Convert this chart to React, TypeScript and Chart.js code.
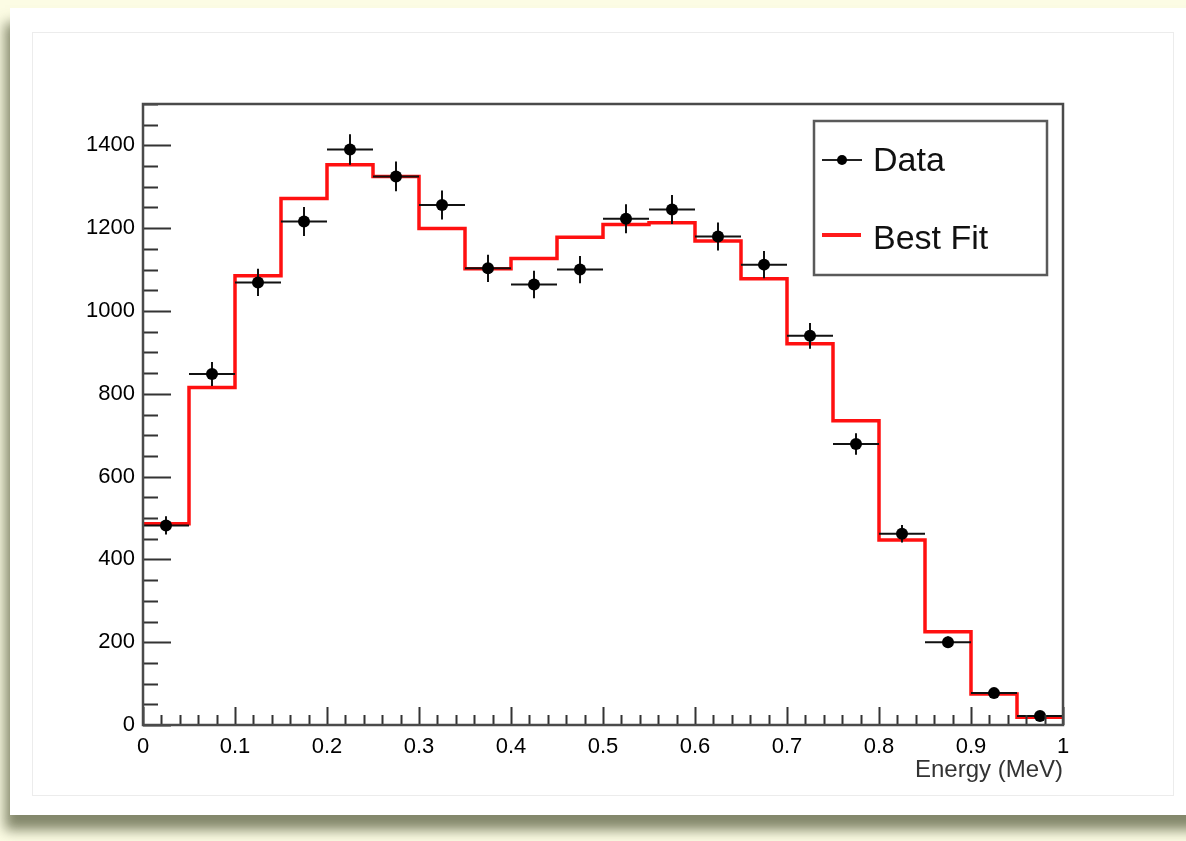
import React, { useEffect, useRef } from "react";
import { Chart, registerables } from "chart.js";

Chart.register(...registerables);

// ---- data ----
const binEdges = [0, 0.05, 0.1, 0.15, 0.2, 0.25, 0.3, 0.35, 0.4, 0.45, 0.5, 0.55, 0.6, 0.65, 0.7, 0.75, 0.8, 0.85, 0.9, 0.95, 1.0];
const dataCounts = [482, 848, 1069, 1216, 1390, 1325, 1256, 1103, 1064, 1100, 1223, 1245, 1180, 1112, 940, 679, 462, 200, 77, 22];
const dataErrors = [22, 29, 33, 35, 37, 36, 35, 33, 33, 33, 35, 35, 34, 33, 31, 26, 21, 14, 9, 5];
const fitCounts = [486, 815, 1085, 1272, 1353, 1325, 1199, 1102, 1127, 1178, 1209, 1213, 1169, 1078, 921, 735, 447, 225, 75, 19];
const yMajorTicks = [0, 200, 400, 600, 800, 1000, 1200, 1400];
const xMajorTicks = [0, 0.1, 0.2, 0.3, 0.4, 0.5, 0.6, 0.7, 0.8, 0.9, 1];
const legendLabels = ["Data", "Best Fit"];
const xTitle = "Energy (MeV)";

const FONT = "'Liberation Sans', Arial, Helvetica, sans-serif";

const isMajorY = (v: number) => yMajorTicks.some((m) => Math.abs(m - v) < 1e-6);
const isMajorX = (v: number) => xMajorTicks.some((m) => Math.abs(m - v) < 1e-6);

const framePlugin = {
  id: "rootFrame",
  afterDatasetDraw(chart: any, args: any) {
    if (args.meta.label !== legendLabels[1]) return;
    // error bars for data, drawn after fit, before data markers
    const { ctx } = chart;
    const xs = chart.scales.x;
    const ys = chart.scales.y;
    ctx.save();
    ctx.strokeStyle = "#111";
    ctx.lineWidth = 2;
    for (let i = 0; i < dataCounts.length; i++) {
      const xl = xs.getPixelForValue(binEdges[i]);
      const xr = xs.getPixelForValue(binEdges[i + 1]);
      const xc = xs.getPixelForValue((binEdges[i] + binEdges[i + 1]) / 2);
      const yc = ys.getPixelForValue(dataCounts[i]);
      const yt = ys.getPixelForValue(dataCounts[i] + dataErrors[i]);
      const yb = ys.getPixelForValue(dataCounts[i] - dataErrors[i]);
      ctx.beginPath();
      ctx.moveTo(xl, yc);
      ctx.lineTo(xr, yc);
      ctx.moveTo(xc, yt);
      ctx.lineTo(xc, yb);
      ctx.stroke();
    }
    ctx.restore();
  },
  afterDraw(chart: any) {
    const { ctx, chartArea: a } = chart;
    const xs = chart.scales.x;
    const ys = chart.scales.y;
    ctx.save();
    // ticks (inward)
    ctx.strokeStyle = "#333";
    ctx.lineWidth = 2;
    ctx.beginPath();
    ys.ticks.forEach((t: any, i: number) => {
      const y = Math.round(ys.getPixelForTick(i)) + 0.5;
      const len = isMajorY(t.value) ? 28 : 15;
      ctx.moveTo(a.left, y);
      ctx.lineTo(a.left + len, y);
    });
    xs.ticks.forEach((t: any, i: number) => {
      const x = Math.round(xs.getPixelForTick(i)) + 0.5;
      const len = isMajorX(t.value) ? 18 : 10;
      ctx.moveTo(x, a.bottom);
      ctx.lineTo(x, a.bottom - len);
    });
    ctx.stroke();
    // frame
    ctx.strokeStyle = "#4a4a4a";
    ctx.lineWidth = 2.5;
    ctx.strokeRect(a.left, a.top, a.right - a.left, a.bottom - a.top);

    // legend box
    const bx = a.left + 671;
    const by = a.top + 17;
    const bw = 233;
    const bh = 154;
    ctx.fillStyle = "#fff";
    ctx.fillRect(bx, by, bw, bh);
    ctx.strokeStyle = "#5a5a5a";
    ctx.lineWidth = 2.5;
    ctx.strokeRect(bx, by, bw, bh);
    // Data entry
    const y1 = by + 39;
    ctx.strokeStyle = "#222";
    ctx.lineWidth = 2;
    ctx.beginPath();
    ctx.moveTo(bx + 8, y1);
    ctx.lineTo(bx + 48, y1);
    ctx.stroke();
    ctx.fillStyle = "#000";
    ctx.beginPath();
    ctx.arc(bx + 28, y1, 5, 0, Math.PI * 2);
    ctx.fill();
    // Best Fit entry
    const y2 = by + 114;
    ctx.strokeStyle = "#ff1a1a";
    ctx.lineWidth = 4;
    ctx.beginPath();
    ctx.moveTo(bx + 8, y2);
    ctx.lineTo(bx + 47, y2);
    ctx.stroke();
    ctx.fillStyle = "#111";
    ctx.font = `34px ${FONT}`;
    ctx.textBaseline = "middle";
    ctx.textAlign = "left";
    ctx.fillText(legendLabels[0], bx + 59, y1 + 2);
    ctx.fillText(legendLabels[1], bx + 59, y2 + 5);
    ctx.restore();
  },
};

function ChartCanvas() {
  const ref = useRef<HTMLCanvasElement | null>(null);
  useEffect(() => {
    if (!ref.current) return;
    const fitPoints = binEdges.map((e, i) => ({ x: e, y: fitCounts[Math.min(i, fitCounts.length - 1)] }));
    const dataPoints = dataCounts.map((v, i) => ({ x: (binEdges[i] + binEdges[i + 1]) / 2, y: v }));
    const chart = new Chart(ref.current, {
      type: "scatter",
      data: {
        datasets: [
          {
            label: legendLabels[1],
            type: "line",
            data: fitPoints,
            stepped: "before",
            borderColor: "#ff1010",
            borderWidth: 3.5,
            pointRadius: 0,
            fill: false,
            order: 2,
          } as any,
          {
            label: legendLabels[0],
            data: dataPoints,
            pointRadius: 6,
            pointBackgroundColor: "#000",
            pointBorderColor: "#000",
            pointBorderWidth: 0,
            order: 1,
          },
        ],
      },
      options: {
        animation: false,
        responsive: false,
        maintainAspectRatio: false,
        layout: { padding: { top: 71, right: 110, left: 0, bottom: 0 } },
        plugins: { legend: { display: false }, tooltip: { enabled: false } },
        scales: {
          x: {
            type: "linear",
            min: 0,
            max: 1,
            grid: { display: false },
            border: { display: false },
            ticks: {
              stepSize: 0.02,
              autoSkip: false,
              maxRotation: 0,
              padding: 1,
              color: "#000",
              font: { family: FONT, size: 22 },
              callback: (v: any) => (isMajorX(Number(v)) ? String(Math.round(Number(v) * 10) / 10) : ""),
            },
            title: {
              display: true,
              text: xTitle,
              align: "end",
              color: "#333",
              font: { family: FONT, size: 24 },
              padding: { top: 0, bottom: 10 },
            },
            afterFit: (s: any) => {
              s.height = 70;
            },
          },
          y: {
            type: "linear",
            min: 0,
            max: 1500,
            grid: { display: false },
            border: { display: false },
            ticks: {
              stepSize: 50,
              autoSkip: false,
              padding: 0,
              color: "#000",
              font: { family: FONT, size: 22 },
              callback: (v: any) => (isMajorY(Number(v)) ? String(v) : ""),
            },
            afterFit: (s: any) => {
              s.width = 110;
            },
          },
        },
      },
      plugins: [framePlugin],
    });
    return () => chart.destroy();
  }, []);
  return <canvas ref={ref} width={1140} height={762} style={{ display: "block", width: 1140, height: 762 }} />;
}

export default function App() {
  return (
    <div style={{ position: "fixed", left: 0, top: 0, width: 1186, height: 841, background: "#fcfce4", overflow: "hidden" }}>
      <div
        style={{
          position: "absolute",
          left: 10,
          top: 8,
          width: 1200,
          height: 807,
          background: "#fff",
          boxShadow: "-5px 15px 12px rgba(80,85,55,0.7)",
        }}
      />
      <div
        style={{
          position: "absolute",
          left: 32,
          top: 32,
          width: 1140,
          height: 762,
          border: "1px solid #ececec",
        }}
      />
      <div style={{ position: "absolute", left: 33, top: 33 }}>
        <ChartCanvas />
      </div>
    </div>
  );
}
